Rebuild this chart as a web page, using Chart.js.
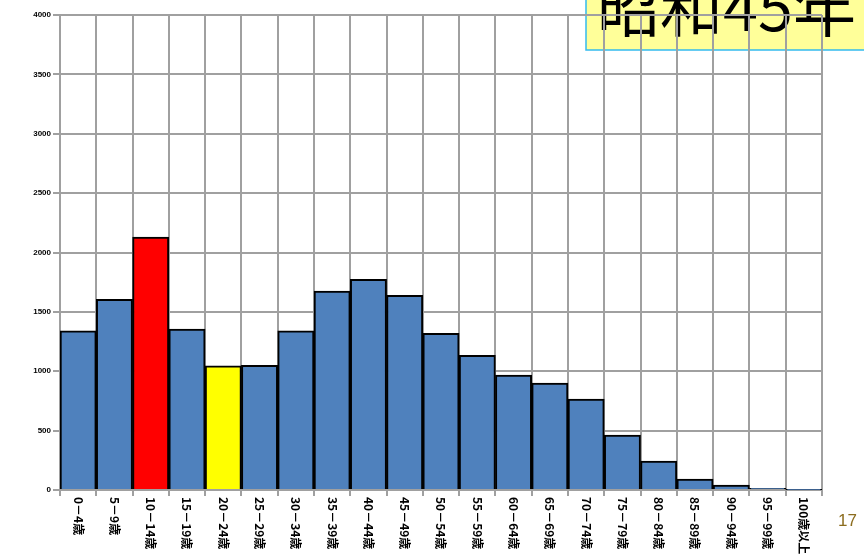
<!DOCTYPE html>
<html>
<head>
<meta charset="utf-8">
<script src="https://cdn.jsdelivr.net/npm/chart.js@4"></script>
<style>
	html, body { margin: 0; padding: 0; background: #fff; }
	#wrap { width: 864px; height: 557px; position: relative; }
</style>
</head>
<body>
<div id="wrap"><canvas id="pyramid"></canvas></div>
<script>
	// Age groups (昭和45年)
	var ageLabels = ['0－4歳', '5－9歳', '10－14歳', '15－19歳', '20－24歳', '25－29歳', '30－34歳',
		'35－39歳', '40－44歳', '45－49歳', '50－54歳', '55－59歳', '60－64歳', '65－69歳',
		'70－74歳', '75－79歳', '80－84歳', '85－89歳', '90－94歳', '95－99歳', '100歳以上'];
	var population = [1340, 1605, 2130, 1355, 1045, 1050, 1340, 1675, 1775, 1640, 1320,
		1135, 968, 900, 765, 463, 244, 93, 42, 15, 2];
	var highlightRed = [2];
	var highlightYellow = [4];
	var yTicks = [0, 500, 1000, 1500, 2000, 2500, 3000, 3500, 4000];
	var titleText = '昭和45年';
	var pageNo = '17';

	var barColors = population.map(function(v, i) {
		if (highlightRed.indexOf(i) >= 0) return '#FF0000';
		if (highlightYellow.indexOf(i) >= 0) return '#FFFF00';
		return '#4F81BD';
	});

	// yellow title box, drawn under the grid
	var titleBox = {
		id: 'titleBox',
		beforeDraw: function(chart) {
			var ctx = chart.ctx;
			ctx.save();
			ctx.fillStyle = '#FFFF99';
			ctx.fillRect(586, -10, 290, 60);
			ctx.strokeStyle = '#33BBEE';
			ctx.lineWidth = 1.5;
			ctx.strokeRect(586, -10, 290, 60);
			ctx.fillStyle = '#000';
			ctx.font = '63px "Noto Sans CJK JP"';
			ctx.textBaseline = 'alphabetic';
			ctx.fillText(titleText, 597, 31);
			ctx.restore();
		}
	};

	// x labels read top-to-bottom, so draw them by hand
	var xLabels = {
		id: 'xLabels',
		afterDraw: function(chart) {
			var ctx = chart.ctx;
			var sx = chart.scales.x;
			ctx.save();
			ctx.fillStyle = '#000';
			ctx.font = 'bold 12px "Noto Sans CJK JP"';
			ctx.textBaseline = 'middle';
			ctx.textAlign = 'left';
			ageLabels.forEach(function(lbl, i) {
				var x = sx.getPixelForValue(i);
				ctx.save();
				ctx.translate(x, 497);
				ctx.rotate(Math.PI / 2);
				ctx.fillText(lbl, 0, 0);
				ctx.restore();
			});
			ctx.fillStyle = '#8C6D1F';
			ctx.font = '17px "Liberation Sans"';
			ctx.fillText(pageNo, 838, 521);
			ctx.restore();
		}
	};

	var chart = new Chart(document.getElementById('pyramid'), {
		type: 'bar',
		data: {
			labels: ageLabels,
			datasets: [{
				data: population,
				backgroundColor: barColors,
				borderColor: '#000',
				borderWidth: 2,
				barPercentage: 1,
				categoryPercentage: 1
			}]
		},
		options: {
			responsive: true,
			maintainAspectRatio: false,
			animation: false,
			layout: { padding: { top: 15, right: 42, left: 0, bottom: 0 } },
			plugins: { legend: { display: false }, tooltip: { enabled: false } },
			scales: {
				x: {
					grid: { color: '#A0A0A0', lineWidth: 2, tickLength: 6, offset: true },
					border: { color: '#A0A0A0', width: 2 },
					ticks: { display: false },
					afterFit: function(s) { s.height = 67; }
				},
				y: {
					min: 0,
					max: 4000,
					afterBuildTicks: function(s) {
						s.ticks = yTicks.map(function(v) { return { value: v }; });
					},
					grid: { color: '#A0A0A0', lineWidth: 2, tickLength: 7 },
					border: { color: '#A0A0A0', width: 2 },
					ticks: {
						color: '#000',
						padding: 2,
						font: { family: 'Liberation Sans', size: 8, weight: 'bold' },
						callback: function(v) { return String(v); }
					},
					afterFit: function(s) { s.width = 60; }
				}
			}
		},
		plugins: [titleBox, xLabels]
	});
</script>
</body>
</html>
